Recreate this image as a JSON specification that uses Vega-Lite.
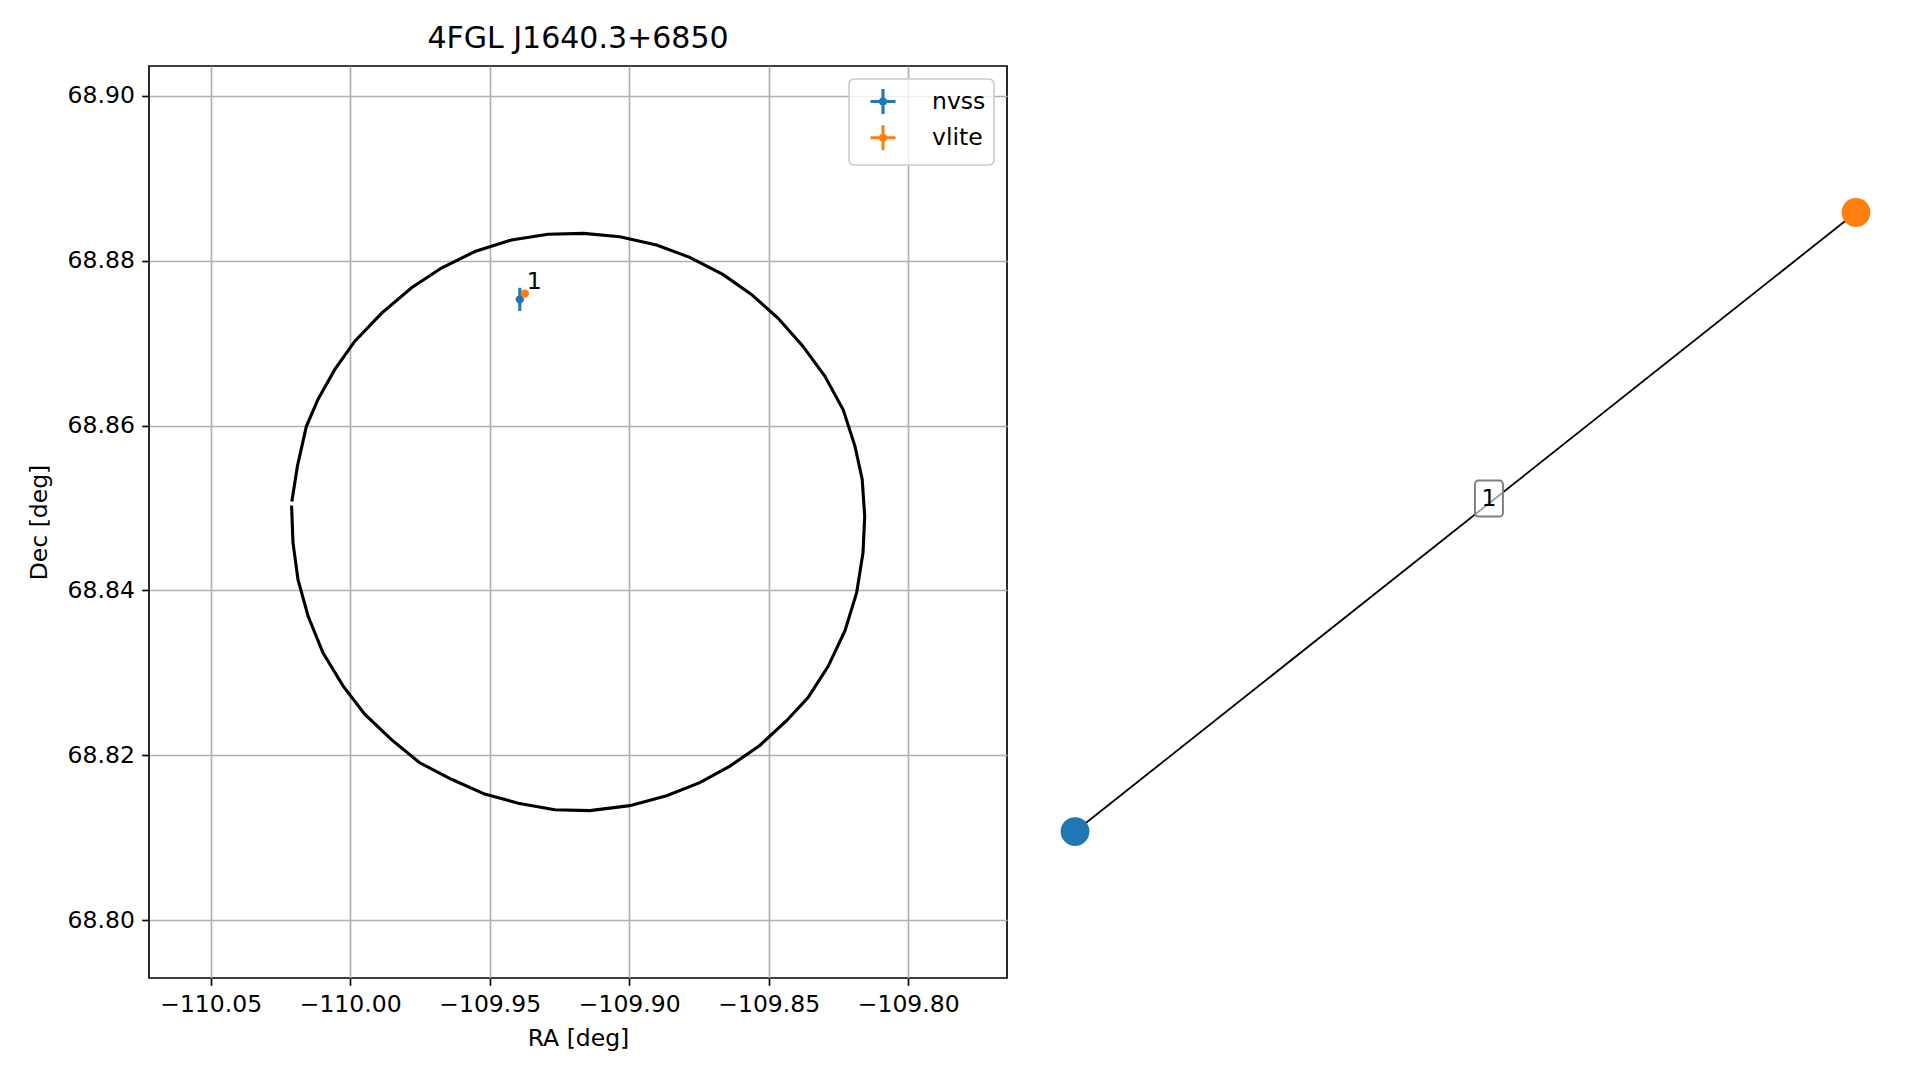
{
  "$schema": "https://vega.github.io/schema/vega-lite/v6.json",
  "background": "white",
  "padding": {"left": 26, "top": 23, "right": 5, "bottom": 5},
  "spacing": 28,
  "config": {
    "font": "DejaVu Sans",
    "view": {"stroke": null},
    "axis": {
      "domain": false,
      "tickColor": "black",
      "tickSize": 7.3,
      "tickWidth": 1.67,
      "grid": true,
      "gridColor": "#b0b0b0",
      "gridWidth": 1.67,
      "labelFont": "DejaVu Sans",
      "labelFontSize": 23.5,
      "labelColor": "black",
      "labelPadding": 7.3,
      "titleFont": "DejaVu Sans",
      "titleFontSize": 23.5,
      "titleFontWeight": "normal",
      "titleColor": "black"
    },
    "legend": {
      "labelFont": "DejaVu Sans",
      "labelFontSize": 23.5,
      "labelColor": "black",
      "strokeWidth": 1.67
    }
  },
  "datasets": {
    "ellipse": [
      {"i": 1, "ra": -110.0210, "dec": 68.8503},
      {"i": 2, "ra": -110.0205, "dec": 68.8458},
      {"i": 3, "ra": -110.0187, "dec": 68.8413},
      {"i": 4, "ra": -110.0151, "dec": 68.8369},
      {"i": 5, "ra": -110.0097, "dec": 68.8324},
      {"i": 6, "ra": -110.0025, "dec": 68.8284},
      {"i": 7, "ra": -109.9948, "dec": 68.8250},
      {"i": 8, "ra": -109.9852, "dec": 68.8219},
      {"i": 9, "ra": -109.9751, "dec": 68.8191},
      {"i": 10, "ra": -109.9637, "dec": 68.8171},
      {"i": 11, "ra": -109.9518, "dec": 68.8153},
      {"i": 12, "ra": -109.9398, "dec": 68.8142},
      {"i": 13, "ra": -109.9267, "dec": 68.8134},
      {"i": 14, "ra": -109.9141, "dec": 68.8133},
      {"i": 15, "ra": -109.8998, "dec": 68.8139},
      {"i": 16, "ra": -109.8866, "dec": 68.8151},
      {"i": 17, "ra": -109.8747, "dec": 68.8167},
      {"i": 18, "ra": -109.8639, "dec": 68.8187},
      {"i": 19, "ra": -109.8532, "dec": 68.8212},
      {"i": 20, "ra": -109.8436, "dec": 68.8242},
      {"i": 21, "ra": -109.8359, "dec": 68.8270},
      {"i": 22, "ra": -109.8287, "dec": 68.8308},
      {"i": 23, "ra": -109.8227, "dec": 68.8351},
      {"i": 24, "ra": -109.8185, "dec": 68.8397},
      {"i": 25, "ra": -109.8162, "dec": 68.8446},
      {"i": 26, "ra": -109.8156, "dec": 68.8490},
      {"i": 27, "ra": -109.8165, "dec": 68.8535},
      {"i": 28, "ra": -109.8191, "dec": 68.8575},
      {"i": 29, "ra": -109.8233, "dec": 68.8619},
      {"i": 30, "ra": -109.8299, "dec": 68.8660},
      {"i": 31, "ra": -109.8377, "dec": 68.8696},
      {"i": 32, "ra": -109.8466, "dec": 68.8730},
      {"i": 33, "ra": -109.8562, "dec": 68.8759},
      {"i": 34, "ra": -109.8663, "dec": 68.8783},
      {"i": 35, "ra": -109.8783, "dec": 68.8804},
      {"i": 36, "ra": -109.8902, "dec": 68.8819},
      {"i": 37, "ra": -109.9034, "dec": 68.8829},
      {"i": 38, "ra": -109.9163, "dec": 68.8833},
      {"i": 39, "ra": -109.9291, "dec": 68.8832},
      {"i": 40, "ra": -109.9422, "dec": 68.8825},
      {"i": 41, "ra": -109.9553, "dec": 68.8811},
      {"i": 42, "ra": -109.9673, "dec": 68.8791},
      {"i": 43, "ra": -109.9780, "dec": 68.8767},
      {"i": 44, "ra": -109.9888, "dec": 68.8736},
      {"i": 45, "ra": -109.9984, "dec": 68.8702},
      {"i": 46, "ra": -110.0055, "dec": 68.8668},
      {"i": 47, "ra": -110.0115, "dec": 68.8632},
      {"i": 48, "ra": -110.0157, "dec": 68.8599},
      {"i": 49, "ra": -110.0189, "dec": 68.8551},
      {"i": 50, "ra": -110.0209, "dec": 68.8508}
    ],
    "sources": [
      {"cat": "nvss", "ra": -109.9392, "dec": 68.8753, "dec_lo": 68.8739, "dec_hi": 68.8767},
      {"cat": "vlite", "ra": -109.9374, "dec": 68.8760, "dec_lo": 68.8760, "dec_hi": 68.8760}
    ],
    "labels": [
      {"ra": -109.9374, "dec": 68.8760, "label": "1"}
    ],
    "nodes": [
      {"node": "nvss", "x": -1.0, "y": -0.792},
      {"node": "vlite", "x": 1.0, "y": 0.792}
    ],
    "edgelabels": [
      {"x": 0.06, "y": 0.06, "label": "1"}
    ]
  },
  "resolve": {
    "scale": {"fill": "independent", "stroke": "independent", "color": "independent"},
    "legend": {"fill": "independent", "stroke": "independent", "color": "independent"}
  },
  "hconcat": [
    {
      "width": 858,
      "height": 912,
      "view": {"stroke": "black", "strokeWidth": 1.67},
      "title": {
        "text": "4FGL J1640.3+6850",
        "frame": "group",
        "anchor": "middle",
        "fontSize": 30,
        "fontWeight": "normal",
        "font": "DejaVu Sans",
        "color": "black",
        "baseline": "alphabetic",
        "offset": -12
      },
      "layer": [
        {
          "data": {"name": "ellipse"},
          "mark": {"type": "line", "color": "black", "strokeWidth": 3.1},
          "encoding": {
            "x": {
              "field": "ra", "type": "quantitative",
              "scale": {"domain": [-110.0721, -109.7646], "nice": false, "zero": false},
              "axis": {
                "title": "RA [deg]",
                "values": [-110.05, -110.0, -109.95, -109.9, -109.85, -109.8],
                "format": ".2f",
                "titlePadding": 10
              }
            },
            "y": {
              "field": "dec", "type": "quantitative",
              "scale": {"domain": [68.7930, 68.9036], "nice": false, "zero": false},
              "axis": {
                "title": "Dec [deg]",
                "values": [68.80, 68.82, 68.84, 68.86, 68.88, 68.90],
                "format": ".2f",
                "titlePadding": 16
              }
            },
            "order": {"field": "i", "type": "quantitative"}
          }
        },
        {
          "data": {"name": "sources"},
          "transform": [{"filter": "datum.cat === 'nvss'"}],
          "mark": {"type": "rule", "color": "#1f77b4", "strokeWidth": 3.1},
          "encoding": {
            "x": {"field": "ra", "type": "quantitative"},
            "y": {"field": "dec_lo", "type": "quantitative"},
            "y2": {"field": "dec_hi"}
          }
        },
        {
          "data": {"name": "sources"},
          "mark": {"type": "point", "shape": "circle", "filled": true, "size": 28, "strokeWidth": 3.1, "opacity": 1},
          "encoding": {
            "x": {"field": "ra", "type": "quantitative"},
            "y": {"field": "dec", "type": "quantitative"},
            "fill": {
              "field": "cat", "type": "nominal",
              "scale": {"domain": ["nvss", "vlite"], "range": ["#1f77b4", "#ff7f0e"]},
              "legend": {
                "title": null,
                "orient": "none",
                "legendX": 700,
                "legendY": 13,
                "symbolType": "M-1,0H1M0,-1V1M0.2,0A0.2,0.2,0,1,1,-0.2,0A0.2,0.2,0,1,1,0.2,0Z",
                "symbolSize": 625,
                "symbolStrokeWidth": 3.1,
                "padding": 8,
                "rowPadding": -2.7,
                "symbolOffset": 11.5,
                "labelOffset": 34.5,
                "fillColor": "rgba(255,255,255,0.8)",
                "strokeColor": "#cccccc",
                "cornerRadius": 5
              }
            },
            "stroke": {
              "field": "cat", "type": "nominal",
              "scale": {"domain": ["nvss", "vlite"], "range": ["#1f77b4", "#ff7f0e"]},
              "legend": {
                "title": null,
                "orient": "none",
                "legendX": 700,
                "legendY": 13,
                "symbolType": "M-1,0H1M0,-1V1M0.2,0A0.2,0.2,0,1,1,-0.2,0A0.2,0.2,0,1,1,0.2,0Z",
                "symbolSize": 625,
                "symbolStrokeWidth": 3.1,
                "padding": 8,
                "rowPadding": -2.7,
                "symbolOffset": 11.5,
                "labelOffset": 34.5,
                "fillColor": "rgba(255,255,255,0.8)",
                "strokeColor": "#cccccc",
                "cornerRadius": 5
              }
            }
          }
        },
        {
          "data": {"name": "labels"},
          "mark": {"type": "text", "align": "left", "baseline": "alphabetic", "dx": 2, "dy": -5, "fontSize": 23.5, "font": "DejaVu Sans", "color": "black"},
          "encoding": {
            "x": {"field": "ra", "type": "quantitative"},
            "y": {"field": "dec", "type": "quantitative"},
            "text": {"field": "label"}
          }
        }
      ]
    },
    {
      "width": 859,
      "height": 912,
      "view": {"stroke": null},
      "layer": [
        {
          "data": {"name": "nodes"},
          "mark": {"type": "line", "color": "black", "strokeWidth": 1.8},
          "encoding": {
            "x": {"field": "x", "type": "quantitative", "scale": {"domain": [-1.1, 1.1], "nice": false, "zero": false}, "axis": null},
            "y": {"field": "y", "type": "quantitative", "scale": {"domain": [-1.1667, 1.1667], "nice": false, "zero": false}, "axis": null},
            "order": {"field": "x", "type": "quantitative"}
          }
        },
        {
          "data": {"name": "nodes"},
          "mark": {"type": "point", "shape": "circle", "filled": true, "size": 830, "opacity": 1},
          "encoding": {
            "x": {"field": "x", "type": "quantitative"},
            "y": {"field": "y", "type": "quantitative"},
            "color": {
              "field": "node", "type": "nominal",
              "scale": {"domain": ["nvss", "vlite"], "range": ["#1f77b4", "#ff7f0e"]},
              "legend": null
            }
          }
        },
        {
          "data": {"name": "edgelabels"},
          "mark": {
            "type": "point",
            "shape": "M-0.578,-1H0.578A0.2,0.2,0,0,1,0.778,-0.8V0.8A0.2,0.2,0,0,1,0.578,1H-0.578A0.2,0.2,0,0,1,-0.778,0.8V-0.8A0.2,0.2,0,0,1,-0.578,-1Z",
            "size": 1296,
            "filled": true,
            "fill": "white",
            "fillOpacity": 0.6,
            "stroke": "#808080",
            "strokeWidth": 2,
            "opacity": 1
          },
          "encoding": {
            "x": {"field": "x", "type": "quantitative"},
            "y": {"field": "y", "type": "quantitative"}
          }
        },
        {
          "data": {"name": "edgelabels"},
          "mark": {"type": "text", "align": "center", "baseline": "middle", "fontSize": 23.5, "font": "DejaVu Sans", "color": "black"},
          "encoding": {
            "x": {"field": "x", "type": "quantitative"},
            "y": {"field": "y", "type": "quantitative"},
            "text": {"field": "label"}
          }
        }
      ]
    }
  ]
}
